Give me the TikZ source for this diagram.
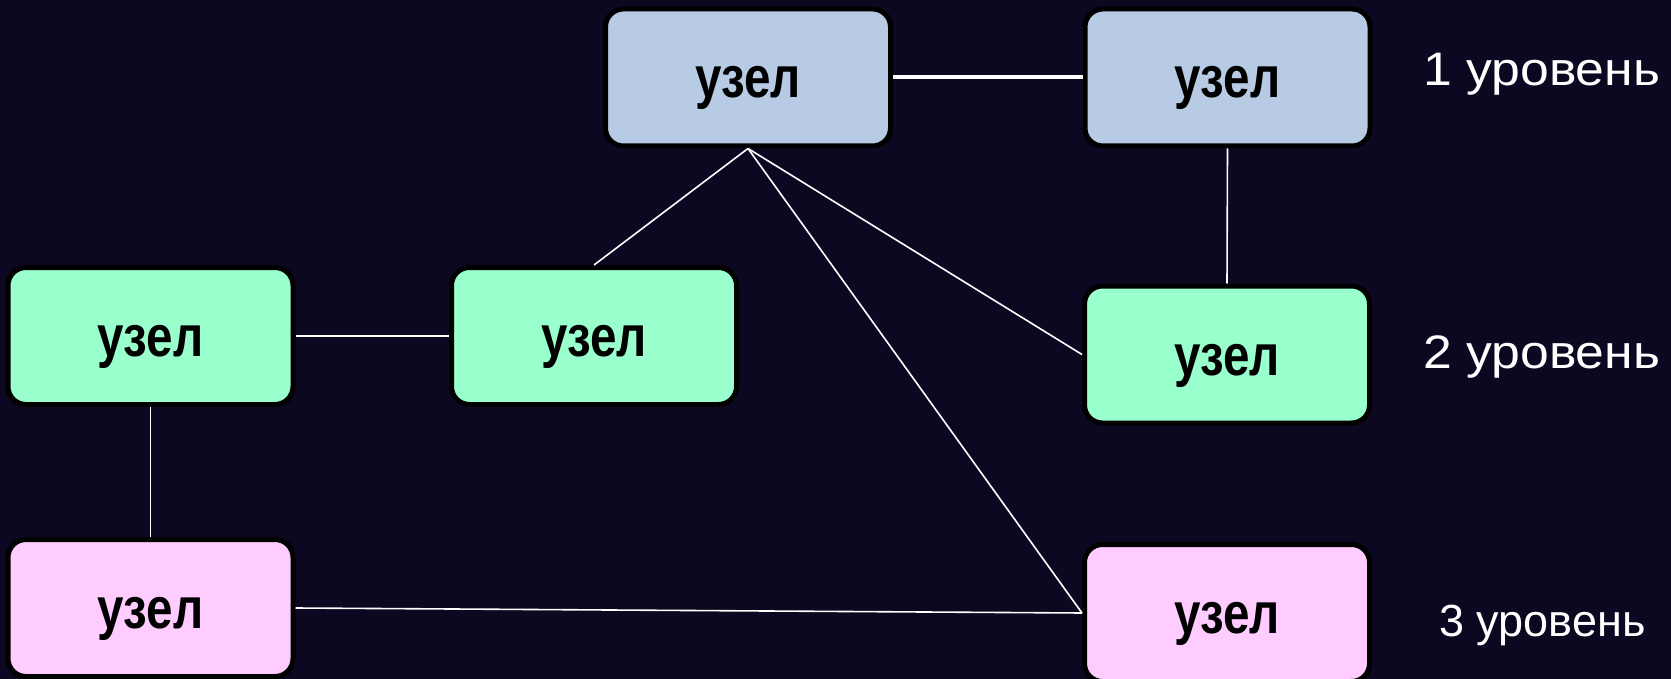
\documentclass[tikz,border=0pt]{standalone}
\usepackage{fontspec}
\setmainfont{Liberation Sans}
\newfontfamily\boxfont{Liberation Sans}[FakeStretch=0.82]
\newfontfamily\levelfont{Liberation Sans}[FakeStretch=1.1]
\newfontfamily\lowlevelfont{Liberation Sans}
\definecolor{bg}{RGB}{12,8,34}
\definecolor{lvlone}{RGB}{183,204,228}
\definecolor{lvltwo}{RGB}{153,255,204}
\definecolor{lvlthree}{RGB}{255,204,255}
\tikzset{
  knot/.style={draw=black, line width=5pt, rounded corners=18pt,
    minimum width=285pt, minimum height=137pt, inner sep=0pt,
    text height=41pt, text depth=0pt,
    font=\boxfont\bfseries\fontsize{58}{60}\selectfont},
  link/.style={draw=white, line width=1.6pt},
  boldlink/.style={draw=white, line width=4pt},
  level/.style={anchor=base west, text=white, inner sep=0pt,
    font=\levelfont\fontsize{47}{50}\selectfont},
  lowlevel/.style={level, font=\lowlevelfont\fontsize{45}{48}\selectfont}
}
\begin{document}
\begin{tikzpicture}[x=1pt,y=-1pt]
  \useasboundingbox (0,0) rectangle (1671,679);
  \fill[bg] (0,0) rectangle (1671,679);

  % level 1
  \node[knot, fill=lvlone] (a) at (748,77.5) {узел};
  \node[knot, fill=lvlone] (b) at (1227.5,77.5) {узел};
  % level 2
  \node[knot, fill=lvltwo] (c) at (150.5,336) {узел};
  \node[knot, fill=lvltwo] (d) at (594,336) {узел};
  \node[knot, fill=lvltwo] (e) at (1227,354.5) {узел};
  % level 3
  \node[knot, fill=lvlthree] (f) at (150.5,608) {узел};
  \node[knot, fill=lvlthree] (g) at (1227,613) {узел};

  % level captions
  \node[level] (l1) at (1423,86) {1 уровень};
  \node[level] (l2) at (1423,368) {2 уровень};
  \node[lowlevel] (l3) at (1439,636) {3 уровень};

  % connections
  \draw[boldlink] (a.east) -- (b.west);
  \draw[link] (b.south) -- (e.north);
  \draw[link] (a.south) -- (d.north);
  \draw[link] (a.south) -- (e.west);
  \draw[link] (a.south) -- (g.west);
  \draw[link] (c.east) -- (d.west);
  \draw[link] (c.south) -- (f.north);
  \draw[link] (f.east) -- (g.west);
\end{tikzpicture}
\end{document}
